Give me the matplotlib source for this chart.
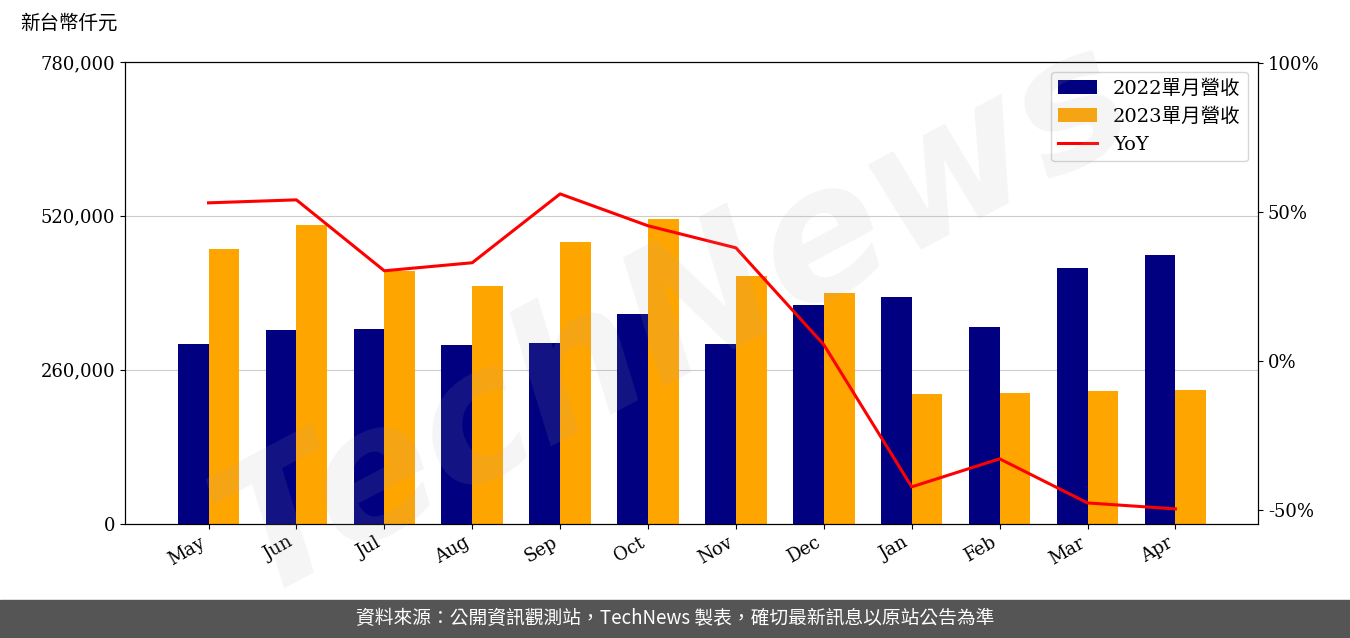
import matplotlib.pyplot as plt
import numpy as np

months = ["May", "Jun", "Jul", "Aug", "Sep", "Oct", "Nov", "Dec", "Jan", "Feb", "Mar", "Apr"]
rev_2022 = [303900, 327500, 329200, 302200, 305600, 354500, 303900, 369700, 383200, 332600, 432200, 454200]
rev_2023 = [464300, 504800, 427100, 401800, 476100, 514900, 418700, 390000, 219500, 221200, 224500, 226200]
yoy = [53.0, 54.0, 30.2, 32.9, 56.0, 45.3, 37.9, 5.4, -42.3, -32.9, -47.7, -49.7]

plt.rcParams['font.family'] = ['DejaVu Serif', 'Noto Sans CJK TC']

fig = plt.figure(figsize=(13.5, 6.38), dpi=100)
ax = fig.add_axes([0.0926, 0.179, 0.8393, 0.724])
x = np.arange(len(months))
w = 0.35
ax.bar(x - w / 2, rev_2022, w, color='#000080', label='2022單月營收', zorder=2)
ax.bar(x + w / 2, rev_2023, w, color='#FFA500', label='2023單月營收', zorder=2)
ax.set_ylim(0, 780000)
ax.set_yticks([0, 260000, 520000, 780000])
ax.set_yticklabels(['0', '260,000', '520,000', '780,000'], fontsize=13)
ax.grid(axis='y', color='#cccccc', zorder=0)
ax.set_xlim(-0.95, 11.94)
ax.set_xticks(x)
ax.set_xticklabels(months, rotation=30, ha='right', fontsize=13)

ax2 = ax.twinx()
ax2.plot(x, yoy, color='red', lw=2.2, label='YoY')
ax2.set_ylim(-54.7, 100.3)
ax2.set_yticks([-50, 0, 50, 100])
ax2.set_yticklabels(['-50%', '0%', '50%', '100%'], fontsize=13)

h1, l1 = ax.get_legend_handles_labels()
h2, l2 = ax2.get_legend_handles_labels()
ax2.legend(h1 + h2, l1 + l2, loc='upper right', fontsize=14)

# watermark
fig.text(0.5, 0.5, 'TechNews', fontsize=130, color='#aaaaaa', alpha=0.12,
         rotation=28, ha='center', va='center', family='DejaVu Sans',
         fontweight='bold', fontstyle='italic')

fig.text(0.015, 0.955, '新台幣仟元', fontsize=14, family='Noto Sans CJK TC')

fig.patches.append(plt.Rectangle((0, 0), 1, 0.06, transform=fig.transFigure,
                                 color='#555555', zorder=0))
fig.text(0.5, 0.03, '資料來源：公開資訊觀測站，TechNews 製表，確切最新訊息以原站公告為準',
         color='white', fontsize=13.5, ha='center', va='center', family='Noto Sans CJK TC')

fig.savefig('out.png')
